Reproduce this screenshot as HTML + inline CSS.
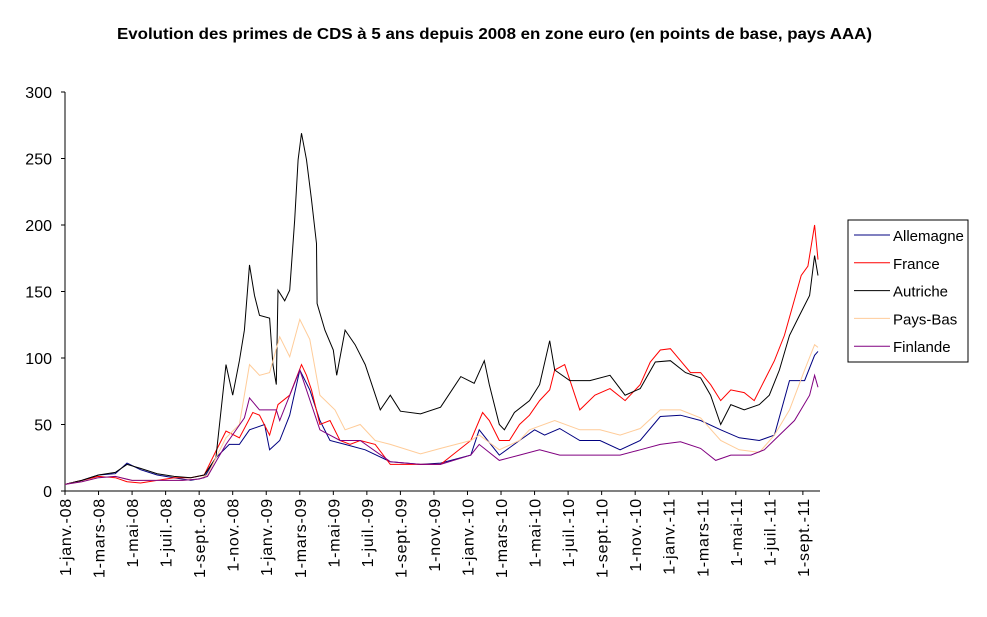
<!DOCTYPE html>
<html><head><meta charset="utf-8"><style>
body{margin:0;background:#fff;font-family:"Liberation Sans",Arial,sans-serif}
svg text{font-family:"Liberation Sans",Arial,sans-serif}
</style></head><body>
<svg id="chart" width="987" height="612" viewBox="0 0 987 612">
<text x="117" y="39" textLength="755" lengthAdjust="spacingAndGlyphs" font-size="15.5" font-weight="bold">Evolution des primes de CDS à 5 ans depuis 2008 en zone euro (en points de base, pays AAA)</text>
<g id="axes"></g>
<g id="series"></g>
<g>
<rect x="848" y="220" width="120" height="142" fill="#fff" stroke="#000"/>
<g id="legend"></g>
</g>
</svg>
<script>
const yTicks=[0,50,100,150,200,250,300];
const xTickLabels=["1-janv.-08","1-mars-08","1-mai-08","1-juil.-08","1-sept.-08","1-nov.-08","1-janv.-09","1-mars-09","1-mai-09","1-juil.-09","1-sept.-09","1-nov.-09","1-janv.-10","1-mars-10","1-mai-10","1-juil.-10","1-sept.-10","1-nov.-10","1-janv.-11","1-mars-11","1-mai-11","1-juil.-11","1-sept.-11"];
const seriesNames=["Allemagne","France","Autriche","Pays-Bas","Finlande"];
const seriesColors=["#000080","#ff0000","#000000","#ffcc99","#800080"];
// months since 1 Jan 2008
const allemagneM=[0,1,2,3,3.7,4.5,5.5,6.5,7.5,8.3,9,9.8,10.4,11,11.9,12.2,12.8,13.4,14,14.6,15.2,15.8,16.7,17.9,19.4,21.2,22.4,24.2,24.7,25.9,27.1,28,28.6,29.5,30.7,31.9,33.1,34.3,35.5,36.7,37.9,39.1,40.2,41.4,42.3,43.2,44.1,44.7,44.9];
const allemagneV=[5,8,12,13,21,16,12,10,8,10,25,35,35,46,50,31,38,57,91,76,53,38,35,31,22,20,21,27,46,27,38,46,42,47,38,38,31,38,56,57,53,46,40,38,42,83,83,102,105];
const franceM=[0,1,2,3,3.7,4.5,5.5,6.5,7.5,8.3,9,9.6,10.4,11.2,11.6,12.2,12.7,13.4,14.1,14.4,14.7,15.2,15.8,16.4,17,17.6,18.5,19.4,21.2,22.4,24.2,24.9,25.3,25.9,26.5,27.1,27.7,28.3,28.9,29.2,29.8,30.7,31.6,32.5,33.4,34.3,34.9,35.5,36.1,36.7,37.3,37.9,38.5,39.1,39.7,40.5,41.1,41.7,42.3,42.9,43.5,43.9,44.3,44.7,44.9];
const franceV=[5,8,11,10,7,6,8,10,10,12,30,45,40,59,57,42,65,72,95,87,76,50,53,38,35,38,35,20,20,20,38,59,53,38,38,50,57,68,76,91,95,61,72,77,68,80,97,106,107,98,89,89,80,68,76,74,68,83,98,117,144,162,169,200,174];
const autricheM=[0,1,2,3,3.7,4.5,5.5,6.5,7.5,8.3,9,9.6,10,10.4,10.7,11,11.3,11.6,12.2,12.4,12.6,12.7,13.1,13.4,13.7,13.9,14.1,14.4,14.7,15,15.03,15.5,16,16.2,16.7,17.3,17.9,18.8,19.4,20,21.2,22.4,23.6,24.4,25,25.3,25.9,26.2,26.8,27.7,28.3,28.9,29.2,30.1,31.3,32.5,33.4,34.3,35.2,36.1,37,37.9,38.5,39.1,39.7,40.5,41.4,42,42.6,43.2,43.8,44.4,44.7,44.9];
const autricheV=[5,8,12,14,20,17,13,11,10,12,25,95,72,98,121,170,147,132,130,95,80,151,143,151,204,249,269,249,219,186,141,121,106,87,121,110,95,61,72,60,58,63,86,81,98,80,50,46,59,68,80,113,91,83,83,87,72,77,97,98,89,85,72,50,65,61,65,72,91,117,132,147,177,162];
const paysBasM=[0,1,2,3,4,5,6,7,8,8.5,9,9.6,10.4,11,11.6,12.2,12.8,13.4,14,14.6,15.2,16.1,16.7,17.6,18.5,19.4,21.2,22.4,24.2,24.7,25.9,27.1,27.7,29.2,30.7,31.9,33.1,34.3,35.5,36.7,37.9,39.1,40.2,41.4,42.3,43.2,44.1,44.7,44.9];
const paysBasV=[5,7,10,11,8,8,8,8,9,12,25,40,50,95,87,89,116,101,129,114,72,61,46,50,38,35,28,32,38,42,31,38,46,53,46,46,42,47,61,61,55,38,31,29,42,61,91,110,108];
const finlandeM=[0,1,2,3,4,5,6,7,8,8.5,9,9.6,10.7,11,11.6,12.6,12.8,14,15.2,16.4,17.6,19.4,21.2,22.4,24.2,24.7,25.9,27.1,28.3,29.5,30.7,31.9,33.1,34.3,35.5,36.7,37.9,38.8,39.7,40.9,41.7,42.6,43.5,44.4,44.7,44.9];
const finlandeV=[5,7,10,11,8,8,8,8,9,11,22,35,55,70,61,61,53,91,46,38,38,22,20,20,27,35,23,27,31,27,27,27,27,31,35,37,32,23,27,27,31,42,53,72,87,78];

const X0=65,Y0=491,YTOP=92,XSTEP=16.77;
const xs=m=>X0+m*XSTEP;
const ys=v=>Y0-(v/300)*(Y0-YTOP);
const NS="http://www.w3.org/2000/svg";
const axes=document.getElementById('axes');
function mk(tag,attrs,parent){const e=document.createElementNS(NS,tag);for(const k in attrs)e.setAttribute(k,attrs[k]);parent.appendChild(e);return e;}
const yAxis=mk('line',{x1:X0,y1:YTOP,x2:X0,y2:Y0,stroke:'#000'},axes);


const xAxis=mk('line',{x1:X0,y1:Y0,x2:820,y2:Y0,stroke:'#000'},axes);


yTicks.forEach(v=>{
  const y=ys(v);
  const t=mk('line',{x1:X0-4,y1:y,x2:X0,y2:y,stroke:'#000'},axes);
  
  
  const l=mk('text',{x:X0-13,y:y+6,'text-anchor':'end','font-size':16},axes);
  
  
  l.textContent=v;
});
xTickLabels.forEach((s,i)=>{
  const x=xs(i*2);
  const t=mk('line',{x1:x,y1:Y0,x2:x,y2:Y0+4,stroke:'#000'},axes);
  
  
  const l=mk('text',{x:0,y:0,'text-anchor':'end','font-size':16,'letter-spacing':0.8,transform:`translate(${x+6},${Y0+7}) rotate(-90)`},axes);
  
  
  l.textContent=s;
});
const sg=document.getElementById('series');
const allM=[allemagneM,franceM,autricheM,paysBasM,finlandeM];
const allV=[allemagneV,franceV,autricheV,paysBasV,finlandeV];
const ids=['allemagne','france','autriche','pays-bas','finlande'];
allM.forEach((M,i)=>{
  const d=M.map((m,j)=>(j?'L':'M')+xs(m).toFixed(1)+','+ys(allV[i][j]).toFixed(1)).join(' ');
  const p=mk('path',{d:d,fill:'none',stroke:seriesColors[i],'stroke-width':1},sg);
  
  
});
const lg=document.getElementById('legend');
seriesNames.forEach((n,i)=>{
  const y=235+i*27.8;
  const l=mk('line',{x1:854,y1:y,x2:890,y2:y,stroke:seriesColors[i]},lg);
  
  
  const t=mk('text',{x:893,y:y+6,'font-size':15},lg);
  
  
  t.textContent=n;
});
</script>
</body></html>
